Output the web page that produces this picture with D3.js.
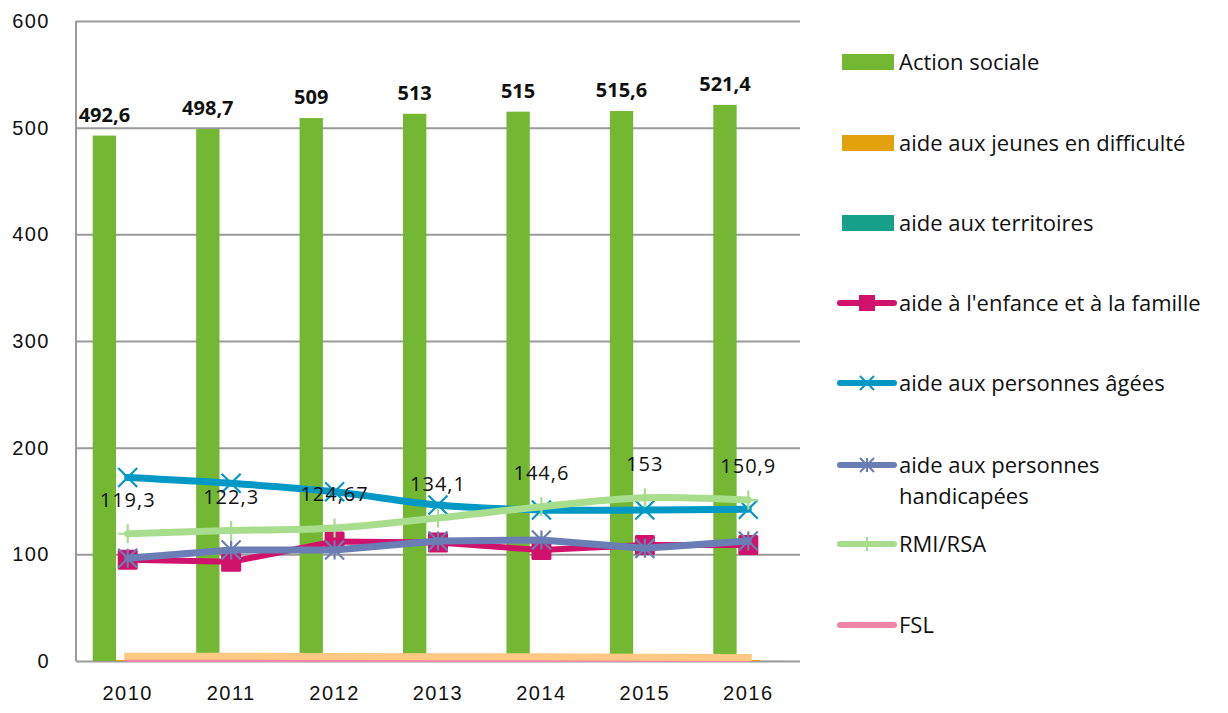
<!DOCTYPE html>
<html>
<head>
<meta charset="utf-8">
<script src="https://cdn.jsdelivr.net/npm/d3@7"></script>
<style>
  body { margin: 0; background: #fff; }
  svg { font-family: "Open Sans", sans-serif; }
</style>
</head>
<body>
<svg id="chart" width="1228" height="713"></svg>
<script>
// data
var years = ["2010", "2011", "2012", "2013", "2014", "2015", "2016"];
var yTicks = [0, 100, 200, 300, 400, 500, 600];

var actionSociale = [492.6, 498.7, 509, 513, 515, 515.6, 521.4];
var jeunes = [1, 1, 1, 1, 1, 1, 1];
var territoires = [0.6, 1, 0.3, 0.2, 0.2, 0.2, 0.1];
var enfance = [95, 93, 112, 111, 104, 108.7, 108.7];
var agees = [172, 166.6, 158.7, 146.2, 141.6, 141.6, 142.3];
var handicapees = [96.3, 104, 104, 112.5, 113.4, 105.6, 112.5];
var rmiRsa = [119.3, 122.3, 124.67, 134.1, 144.6, 153, 150.9];
var rmiLabels = ["119,3", "122,3", "124,67", "134,1", "144,6", "153", "150,9"];
var fsl = [1.5, 1.5, 1.5, 1.5, 1.4, 1.3, 1.3];
var autre = [4.5, 4.5, 4.3, 4, 4, 3.6, 3.4]; // light orange line at the bottom, not in legend
var barLabels = ["492,6", "498,7", "509", "513", "515", "515,6", "521,4"];

var margin = ({top: 21, right: 428, bottom: 52, left: 76});
var width = 1228, height = 713;

var svg = d3.select('#chart');

var x = d3.scaleBand()
	.domain(years)
	.range([margin.left, width - margin.right]);

var y = d3.scaleLinear()
	.domain([0, 600])
	.range([height - margin.bottom, margin.top]);

var barSeries = ["action", "jeunes", "territoires"];
var xInner = d3.scaleBand()
	.domain(barSeries)
	.range([x.bandwidth() / 2 - 35, x.bandwidth() / 2 + 35]);

// gridlines + y labels
svg.append('g')
	.attr('transform', 'translate(' + margin.left + ',0)')
	.call(d3.axisLeft(y).tickValues(yTicks).tickSize(-(width - margin.left - margin.right)).tickPadding(26))
	.call(g => g.select('.domain').remove())
	.call(g => g.selectAll('.tick line').attr('stroke', '#9a9a9a').attr('stroke-width', 2))
	.call(g => g.selectAll('.tick text').attr('font-size', 20).attr('letter-spacing', 1.5).attr('fill', '#111'));

// left axis line
svg.append('line')
	.attr('x1', margin.left).attr('x2', margin.left)
	.attr('y1', y(600)).attr('y2', y(0))
	.attr('stroke', '#9a9a9a').attr('stroke-width', 2);

// x labels
svg.append('g')
	.attr('transform', 'translate(0,' + y(0) + ')')
	.call(d3.axisBottom(x).tickSize(0).tickPadding(25))
	.call(g => g.select('.domain').remove())
	.call(g => g.selectAll('.tick text').attr('font-size', 20).attr('letter-spacing', 1.5).attr('fill', '#111'));

// bars
var barColors = {action: '#74b733', jeunes: '#e3a20b', territoires: '#16a08a'};
var barData = {action: actionSociale, jeunes: jeunes, territoires: territoires};
barSeries.forEach(function(s) {
	svg.append('g')
		.selectAll('rect')
		.data(barData[s])
		.join('rect')
		.attr('x', (d, i) => x(years[i]) + xInner(s))
		.attr('y', d => y(d))
		.attr('width', xInner.bandwidth())
		.attr('height', d => y(0) - y(d))
		.attr('fill', barColors[s]);
});

// bar labels
svg.append('g')
	.selectAll('text')
	.data(actionSociale)
	.join('text')
	.attr('x', (d, i) => x(years[i]) + xInner('action') + xInner.bandwidth() / 2)
	.attr('y', d => y(d) - 14)
	.attr('text-anchor', 'middle')
	.attr('font-size', 20)
	.attr('font-weight', 'bold')
	.attr('fill', '#111')
	.text((d, i) => barLabels[i]);

var cx = (d, i) => x(years[i]) + x.bandwidth() / 2;

function drawLine(values, color, w, curve, cap) {
	var line = d3.line()
		.x(cx)
		.y(d => y(d))
		.curve(curve);
	svg.append('path')
		.attr('d', line(values))
		.attr('fill', 'none')
		.attr('stroke', color)
		.attr('stroke-width', w)
		.attr('stroke-linejoin', 'round')
		.attr('stroke-linecap', cap || 'round');
}

function markerPath(type, s) {
	var h = s / 2;
	if (type == 'x') return 'M' + (-h) + ',' + (-h) + 'L' + h + ',' + h + 'M' + (-h) + ',' + h + 'L' + h + ',' + (-h);
	if (type == 'star') return 'M' + (-h) + ',' + (-h) + 'L' + h + ',' + h + 'M' + (-h) + ',' + h + 'L' + h + ',' + (-h) + 'M0,' + (-h) + 'L0,' + h;
	if (type == 'plus') return 'M0,' + (-h) + 'L0,' + h + 'M' + (-h) + ',0L' + h + ',0';
	return '';
}

function drawMarkers(values, type, color) {
	var g = svg.append('g');
	if (type == 'square') {
		g.selectAll('rect')
			.data(values)
			.join('rect')
			.attr('x', (d, i) => cx(d, i) - 10)
			.attr('y', d => y(d) - 10)
			.attr('width', 20).attr('height', 20)
			.attr('rx', 1.5)
			.attr('fill', color);
	} else {
		g.selectAll('path')
			.data(values)
			.join('path')
			.attr('transform', (d, i) => 'translate(' + cx(d, i) + ',' + y(d) + ')')
			.attr('d', markerPath(type, 19))
			.attr('fill', 'none')
			.attr('stroke', color)
			.attr('stroke-width', 2.2);
	}
}

drawLine(enfance, '#d0126b', 6, d3.curveLinear);
drawMarkers(enfance, 'square', '#d0126b');
drawLine(agees, '#0099c5', 7, d3.curveCatmullRom);
drawMarkers(agees, 'x', '#0099c5');
drawLine(handicapees, '#6a7db5', 7, d3.curveLinear);
drawMarkers(handicapees, 'star', '#6a7db5');
drawLine(rmiRsa, '#a8dd8d', 7, d3.curveCatmullRom);
drawMarkers(rmiRsa, 'plus', '#a8dd8d');
drawLine(fsl, '#ee86a8', 5, d3.curveLinear);
drawLine(autre, '#ffc983', 7, d3.curveLinear, 'square');

// RMI labels
svg.append('g')
	.selectAll('text')
	.data(rmiRsa)
	.join('text')
	.attr('x', cx)
	.attr('y', d => y(d) - 27)
	.attr('text-anchor', 'middle')
	.attr('font-size', 20)
	.attr('letter-spacing', 1)
	.attr('fill', '#111')
	.text((d, i) => rmiLabels[i]);

// legend
var legendItems = [
	{name: ["Action sociale"], color: '#74b733', kind: 'rect', y: 62},
	{name: ["aide aux jeunes en difficulté"], color: '#e3a20b', kind: 'rect', y: 143},
	{name: ["aide aux territoires"], color: '#16a08a', kind: 'rect', y: 223},
	{name: ["aide à l'enfance et à la famille"], color: '#d0126b', kind: 'square', y: 303},
	{name: ["aide aux personnes âgées"], color: '#0099c5', kind: 'x', y: 383},
	{name: ["aide aux personnes", "handicapées"], color: '#6a7db5', kind: 'star', y: 465},
	{name: ["RMI/RSA"], color: '#a8dd8d', kind: 'plus', y: 544},
	{name: ["FSL"], color: '#ee86a8', kind: 'none', y: 625}
];

var legend = svg.append('g');
legendItems.forEach(function(it) {
	var g = legend.append('g').attr('transform', 'translate(0,' + it.y + ')');
	if (it.kind == 'rect') {
		g.append('rect').attr('x', 842).attr('y', -8).attr('width', 52).attr('height', 16).attr('fill', it.color);
	} else {
		g.append('line').attr('x1', 840).attr('x2', 894).attr('y1', 0).attr('y2', 0)
			.attr('stroke', it.color).attr('stroke-width', 6).attr('stroke-linecap', 'round');
		if (it.kind == 'square') {
			g.append('rect').attr('x', 859).attr('y', -8).attr('width', 16).attr('height', 16).attr('fill', it.color);
		} else if (it.kind != 'none') {
			g.append('path').attr('transform', 'translate(867,0)').attr('d', markerPath(it.kind, 14))
				.attr('fill', 'none').attr('stroke', it.color).attr('stroke-width', 2);
		}
	}
	it.name.forEach(function(t, k) {
		g.append('text')
			.attr('x', 899)
			.attr('y', k * 31)
			.attr('dy', '0.35em')
			.attr('font-size', 22)
			.attr('fill', '#111')
			.text(t);
	});
});
</script>
</body>
</html>
